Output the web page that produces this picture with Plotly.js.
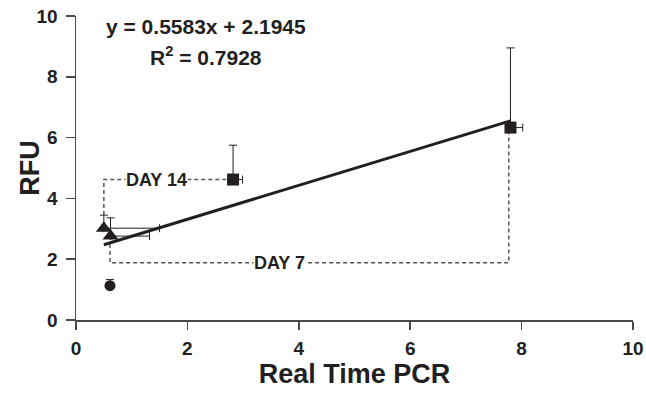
<!DOCTYPE html>
<html>
<head>
<meta charset="utf-8">
<script src="https://cdn.plot.ly/plotly-3.0.1.min.js"></script>
<style>html,body{margin:0;padding:0;background:#fff;}#chart{width:646px;height:394px;}</style>
</head>
<body>
<div id="chart"></div>
<script>
// Data points
const triX = [0.5, 0.62];
const triY = [3.02, 2.76];
const triErrYPlus = [0.43, 0.6];
const triErrXPlus = [1.0, 0.7];
const circX = [0.61];
const circY = [1.13];
const circErrYPlus = [0.2];
const sqX = [2.82, 7.8];
const sqY = [4.62, 6.33];
const sqErrYPlus = [1.13, 2.62];
const sqErrXPlus = [0.17, 0.22];
// Regression
const slope = 0.5583, intercept = 2.1945;
const fitX = [0.5, 7.8];
// Dashed connectors
const day14X = [0.5, 0.5, 2.7];
const day14Y = [3.45, 4.62, 4.62];
const day7X = [0.61, 0.61, 7.77, 7.77];
const day7Y = [2.5, 1.88, 1.88, 6.2];
const xTicks = [0, 2, 4, 6, 8, 10];
const yTicks = [0, 2, 4, 6, 8, 10];

const fitY = fitX.map(x => slope * x + intercept);
const ink = '#231f20';
const axisCol = '#4a4a4a';
const dashCol = '#555555';

const traces = [
  {x: day14X, y: day14Y, mode: 'lines', line: {color: dashCol, width: 1.5, dash: '4px,3px'}, hoverinfo: 'skip'},
  {x: day7X, y: day7Y, mode: 'lines', line: {color: dashCol, width: 1.5, dash: '4px,3px'}, hoverinfo: 'skip'},
  {x: fitX, y: fitY, mode: 'lines', line: {color: ink, width: 3}},
  {x: triX, y: triY, mode: 'markers', marker: {symbol: 'triangle-up', size: 14, color: ink},
   error_y: {type: 'data', symmetric: false, array: triErrYPlus, arrayminus: [0, 0], color: ink, thickness: 1, width: 4},
   error_x: {type: 'data', symmetric: false, array: triErrXPlus, arrayminus: [0, 0], color: ink, thickness: 1, width: 4}},
  {x: circX, y: circY, mode: 'markers', marker: {symbol: 'circle', size: 11, color: ink},
   error_y: {type: 'data', symmetric: false, array: circErrYPlus, arrayminus: [0], color: ink, thickness: 1, width: 4}},
  {x: sqX, y: sqY, mode: 'markers', marker: {symbol: 'square', size: 12, color: ink},
   error_y: {type: 'data', symmetric: false, array: sqErrYPlus, arrayminus: [0, 0], color: ink, thickness: 1, width: 4},
   error_x: {type: 'data', symmetric: false, array: sqErrXPlus, arrayminus: [0, 0], color: ink, thickness: 1, width: 4}}
];

const fam = 'Liberation Sans, Arial, sans-serif';
const layout = {
  width: 646, height: 394,
  margin: {l: 76, r: 13, t: 16, b: 74},
  paper_bgcolor: '#fff', plot_bgcolor: '#fff',
  showlegend: false,
  font: {family: fam, color: ink},
  xaxis: {
    range: [0, 10], tickvals: xTicks, ticktext: xTicks.map(String),
    showgrid: false, zeroline: false, showline: true, linecolor: axisCol, linewidth: 1.5,
    ticks: 'outside', ticklen: 8, tickcolor: axisCol, tickwidth: 1.5, ticklabelstandoff: 3,
    tickfont: {family: fam, size: 19, color: ink, weight: 'bold'},
    title: {text: '<b>Real Time PCR</b>', font: {family: fam, size: 27, color: ink}, standoff: 3}
  },
  yaxis: {
    range: [0, 10], tickvals: yTicks, ticktext: yTicks.map(String),
    showgrid: false, zeroline: false, showline: true, linecolor: axisCol, linewidth: 1.5,
    ticks: 'outside', ticklen: 9, tickcolor: axisCol, tickwidth: 1.5, ticklabelstandoff: 4,
    tickfont: {family: fam, size: 19, color: ink, weight: 'bold'}
  },
  annotations: [
    {x: -0.083, y: 0.5, xref: 'paper', yref: 'paper', text: '<b>RFU</b>', textangle: -90, showarrow: false,
     xanchor: 'center', yanchor: 'middle', font: {family: fam, size: 27, color: ink}},
    {x: 1.45, y: 4.62, xref: 'x', yref: 'y', text: '<b>DAY 14</b>', showarrow: false, bgcolor: '#fff',
     font: {family: fam, size: 18, color: ink}, borderpad: 0},
    {x: 3.66, y: 1.88, xref: 'x', yref: 'y', text: '<b>DAY 7</b>', showarrow: false, bgcolor: '#fff',
     font: {family: fam, size: 18, color: ink}, borderpad: 0},
    {x: 2.33, y: 9.65, xref: 'x', yref: 'y', text: '<b>y = 0.5583x + 2.1945</b>', showarrow: false,
     font: {family: fam, size: 21, color: ink}},
    {x: 2.33, y: 8.7, xref: 'x', yref: 'y', text: '<b>R<sup>2</sup> = 0.7928</b>', showarrow: false,
     font: {family: fam, size: 21, color: ink}}
  ]
};
Plotly.newPlot('chart', traces, layout, {displayModeBar: false, staticPlot: true});
</script>
</body>
</html>
